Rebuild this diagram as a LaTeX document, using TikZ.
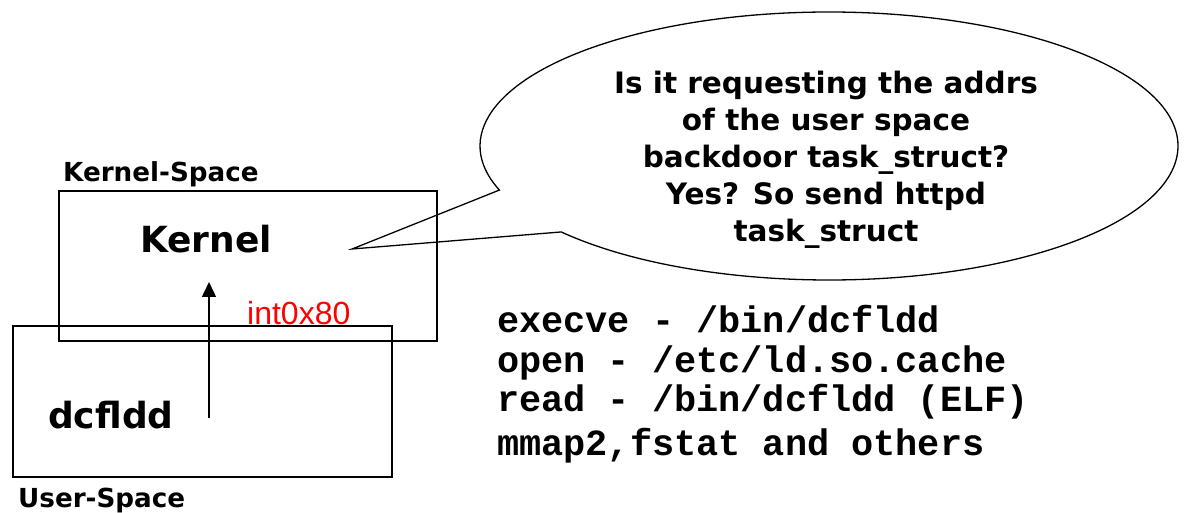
\documentclass[tikz,border=0pt]{standalone}
\usepackage{fontspec}
\setmainfont{DejaVu Sans}
\newfontfamily\monof{Liberation Mono}
\newfontfamily\arialf{Liberation Sans}
\usetikzlibrary{calc,arrows.meta}
\begin{document}
\begin{tikzpicture}[x=1pt,y=1pt,
  spacebox/.style={draw=black,line width=1.6pt},
  spacelabel/.style={anchor=base west,inner sep=0pt,font=\bfseries\fontsize{26.2}{31}\selectfont},
  bigname/.style={anchor=base west,inner sep=0pt,font=\bfseries\fontsize{36}{43}\selectfont},
  calltext/.style={align=center,inner sep=0pt,font=\bfseries\fontsize{29.5}{37}\selectfont},
  monoline/.style={anchor=base west,inner sep=0pt,font=\monof\bfseries\fontsize{36.9}{40}\selectfont},
  callline/.style={draw=black,line width=1.3pt,line join=miter},
  sysarrow/.style={draw=black,line width=1.5pt,-{Triangle[length=15pt,width=14pt]}}
]
\useasboundingbox (0,0) rectangle (1186,512);
% boxes
\node[spacebox,minimum width=378pt,minimum height=150pt,inner sep=0pt,anchor=south west] (kbox) at (58,170) {};
\node[spacebox,minimum width=379pt,minimum height=151pt,inner sep=0pt,anchor=south west] (ubox) at (12,34) {};
% labels
\node[spacelabel] (kspace) at (63,330) {Kernel-Space};
\node[spacelabel] (uspace) at (18,5) {User-Space};
\node[bigname] (kernel) at (140,259) {Kernel};
\node[bigname] (dcfldd) at (48,84) {dcfldd};
\node[anchor=base west,inner sep=0pt,text=red,font=\arialf\fontsize{32}{38}\selectfont] (int) at (247,188) {int0x80};
% arrow
\coordinate (afrom) at (209,94);
\coordinate (ato) at (209,230);
\draw[sysarrow] (afrom) -- (ato);
% callout
\coordinate (tip) at (352,263);
\coordinate (cc) at (829,366);
\draw[callline] (tip) -- ($(cc)+(219.9:349 and 134)$)
  arc[start angle=219.9,end angle=559.2,x radius=349,y radius=134] -- cycle;
\node[calltext] (thought) at (826,352.5) {Is it requesting the addrs\\of the user space\\backdoor task\_struct?\\Yes? So send httpd\\task\_struct};
% syscalls
\node[monoline] (l1) at (497,179) {execve - /bin/dcfldd};
\node[monoline] (l2) at (497,140) {open - /etc/ld.so.cache};
\node[monoline] (l3) at (497,100.5) {read - /bin/dcfldd (ELF)};
\node[monoline] (l4) at (497,57) {mmap2,fstat and others};
\end{tikzpicture}
\end{document}
